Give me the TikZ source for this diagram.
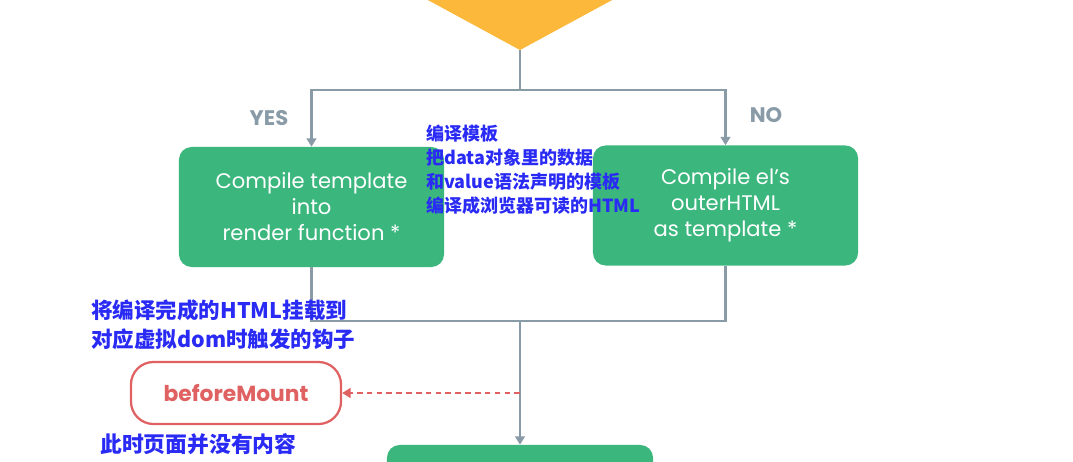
\documentclass[tikz,border=0pt]{standalone}
\usepackage{fontspec}
\setmainfont{Poppins}
\newfontfamily\cjk{Noto Sans CJK SC}
\usetikzlibrary{arrows.meta,shapes.geometric}
\definecolor{vgreen}{HTML}{3BB77E}
\definecolor{slate}{HTML}{8A9BA8}
\definecolor{amber}{HTML}{FBB83A}
\definecolor{hookred}{HTML}{E06161}
\definecolor{note}{HTML}{2A2AF5}

\begin{document}
\begin{tikzpicture}[x=0.025cm,y=-0.025cm,>={Triangle[width=7pt,length=6pt]},
  flow/.style={draw=slate,line width=2pt},
  stepbox/.style={fill=vgreen,rounded corners=9pt,minimum width=6.625cm,minimum height=3cm,align=center,text=white,font=\fontsize{15}{18.5}\selectfont},
  branch/.style={text=slate,font=\fontsize{15}{17}\selectfont\bfseries},
  remark/.style={text=note,align=left,inner sep=0pt}]
\useasboundingbox (0,0) rectangle (1073,461);
\clip (0,0) rectangle (1073,461);
\node[diamond,fill=amber,inner sep=0pt,outer sep=0pt,aspect=1.84,minimum width=6.45cm,minimum height=3.5cm] (dec) at (520,-20) {};
\coordinate (split) at (520,90);
\node[stepbox] (yes) at (311.5,207) {Compile template\\into\\render function *};
\node[stepbox] (no) at (725.5,205.5) {Compile el’s\\outerHTML\\as template *};
\node[branch] (yeslbl) at (269,118) {YES};
\node[branch] (nolbl) at (766,115) {NO};
\coordinate (join) at (520,321);
\node[stepbox,minimum width=6.65cm] (mount) at (520,505) {};
\node[draw=hookred,line width=1.6pt,fill=white,rounded corners=16pt,minimum width=5.25cm,minimum height=1.55cm,text=hookred,font=\fontsize{15.5}{18}\selectfont\bfseries] (bm) at (236,393) {beforeMount};
\coordinate (tap) at (520,393);
\draw[flow] (dec.south) -- (split);
\draw[flow,->] (split) -| (yes.north);
\draw[flow,->] (split) -| (no.north);
\draw[flow] (yes.south) |- (join);
\draw[flow] (no.south) |- (join);
\draw[flow,->] (join) -- (mount.north);
\draw[hookred,line width=1.4pt,dash pattern=on 4pt off 3pt,->] (tap) -- (bm.east);
\node[remark,anchor=north west,font=\cjk\bfseries\fontsize{12.8}{17}\selectfont] (compilenote) at (426,125) {编译模板\\把data对象里的数据\\和value语法声明的模板\\编译成浏览器可读的HTML};
\node[remark,anchor=north west,font=\cjk\bfseries\fontsize{15.3}{21}\selectfont] (hooknote) at (91,299) {将编译完成的HTML挂载到\\对应虚拟dom时触发的钩子};
\node[remark,anchor=north west,font=\cjk\bfseries\fontsize{15.5}{18}\selectfont] (emptynote) at (100,433) {此时页面并没有内容};
\end{tikzpicture}
\end{document}
